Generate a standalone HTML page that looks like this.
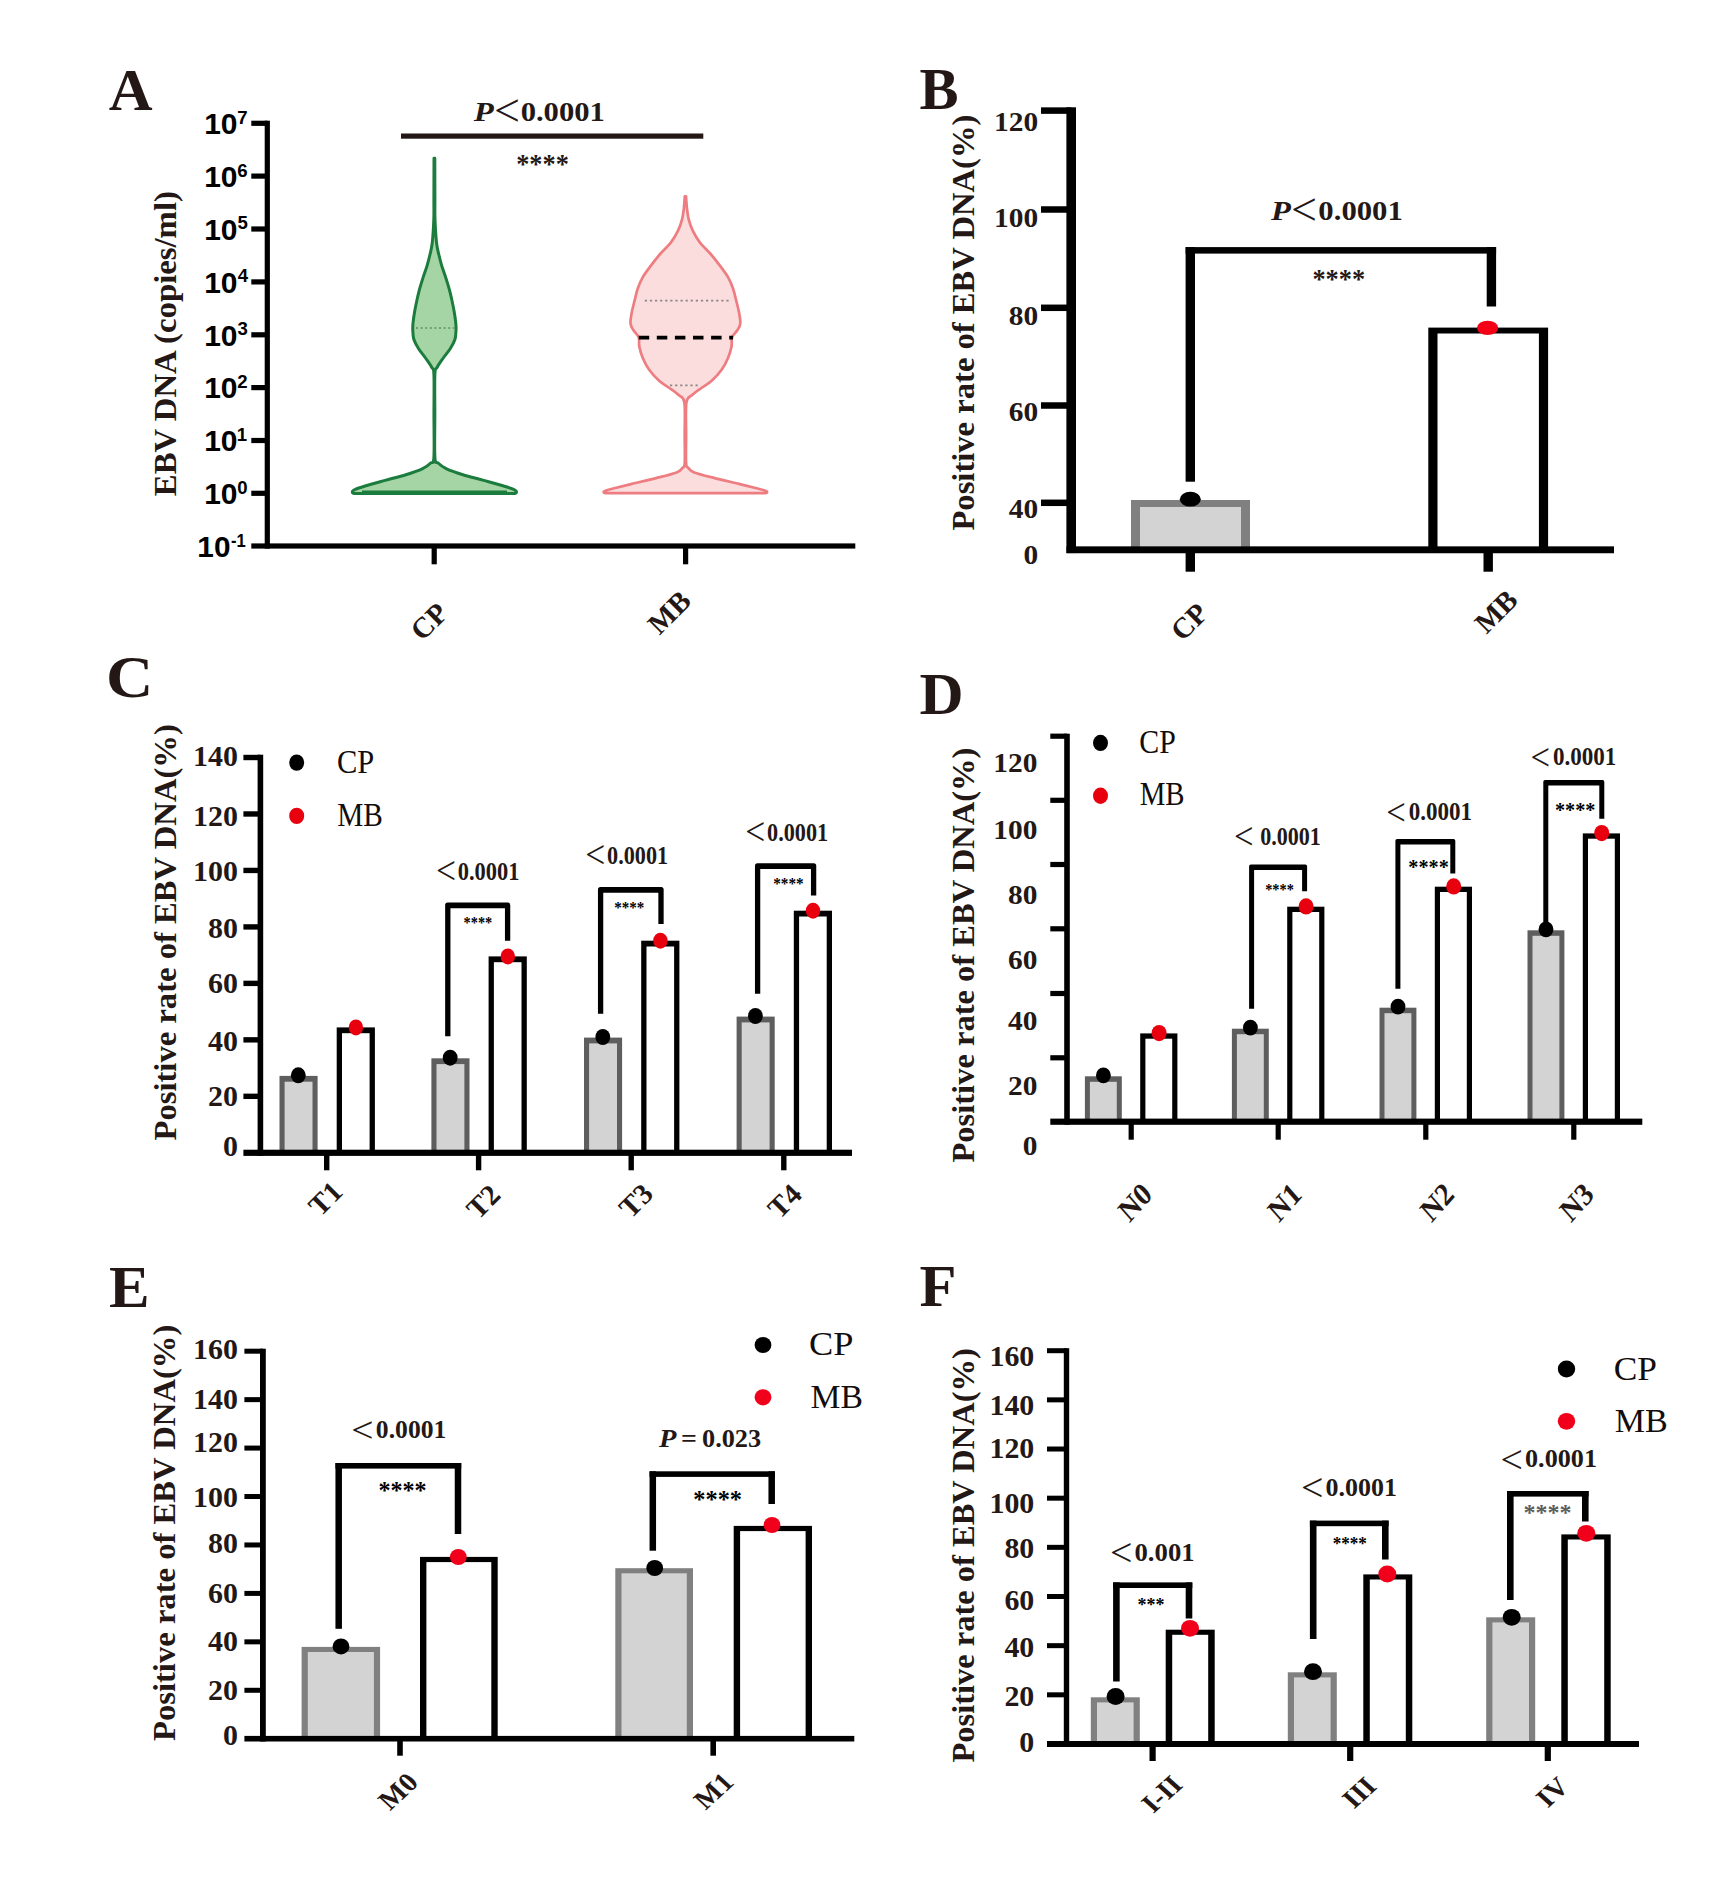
<!DOCTYPE html>
<html lang="en">
<head>
<meta charset="utf-8">
<title>EBV DNA figure</title>
<style>
html,body{margin:0;padding:0;background:#fff;}
svg{display:block;}
text{white-space:pre;}
</style>
</head>
<body>
<svg width="1731" height="1896" viewBox="0 0 1731 1896">
<rect x="0" y="0" width="1731" height="1896" fill="#fff"/>
<text x="108.89" y="110" font-family='"Liberation Serif", serif' font-size="60" font-weight="bold" fill="#231815" textLength="43.84" lengthAdjust="spacingAndGlyphs">A</text>
<path d="M434 158.3 C433.98 165.25 433.93 189.83 433.9 200 C433.87 210.17 434.07 212.23 433.8 219.3 C433.53 226.37 432.92 236.62 432.3 242.4 C431.68 248.18 430.97 250.13 430.1 254 C429.23 257.87 428.25 261.75 427.1 265.6 C425.95 269.45 424.43 273.25 423.2 277.1 C421.97 280.95 420.75 284.85 419.7 288.7 C418.65 292.55 417.75 296.35 416.9 300.2 C416.05 304.05 415.25 307.95 414.6 311.8 C413.95 315.65 413.3 320.22 413 323.3 C412.7 326.38 412.65 327.6 412.8 330.3 C412.95 333 412.93 336.43 413.9 339.5 C414.87 342.57 416.67 345.62 418.6 348.7 C420.53 351.78 423.33 354.92 425.5 358 C427.67 361.08 430.2 364.45 431.6 367.2 C433 369.95 433.51 366.53 433.9 374.5 C434.29 382.47 433.95 401.2 433.95 415 C433.95 428.8 434.44 449.3 433.9 457.3 C433.36 465.3 432.65 461.07 430.7 463 C428.75 464.93 426.33 466.95 422.2 468.9 C418.07 470.85 412.08 472.78 405.9 474.7 C399.72 476.62 392.02 478.48 385.1 480.4 C378.18 482.32 369.38 484.72 364.4 486.2 C359.42 487.68 357.2 488.43 355.2 489.3 C353.2 490.17 352.87 491.05 352.4 491.4 Q352 493.5 354.5 493.5 L514.3 493.5 Q516.8 493.5 516.4 491.4 L516.4 491.4 C515.93 491.05 515.6 490.17 513.6 489.3 C511.6 488.43 509.38 487.68 504.4 486.2 C499.42 484.72 490.62 482.32 483.7 480.4 C476.78 478.48 469.08 476.62 462.9 474.7 C456.72 472.78 450.73 470.85 446.6 468.9 C442.47 466.95 440.05 464.93 438.1 463 C436.15 461.07 435.44 465.3 434.9 457.3 C434.36 449.3 434.85 428.8 434.85 415 C434.85 401.2 434.51 382.47 434.9 374.5 C435.29 366.53 435.8 369.95 437.2 367.2 C438.6 364.45 441.13 361.08 443.3 358 C445.47 354.92 448.27 351.78 450.2 348.7 C452.13 345.62 453.93 342.57 454.9 339.5 C455.87 336.43 455.85 333 456 330.3 C456.15 327.6 456.1 326.38 455.8 323.3 C455.5 320.22 454.85 315.65 454.2 311.8 C453.55 307.95 452.75 304.05 451.9 300.2 C451.05 296.35 450.15 292.55 449.1 288.7 C448.05 284.85 446.83 280.95 445.6 277.1 C444.37 273.25 442.85 269.45 441.7 265.6 C440.55 261.75 439.57 257.87 438.7 254 C437.83 250.13 437.12 248.18 436.5 242.4 C435.88 236.62 435.27 226.37 435 219.3 C434.73 212.23 434.93 210.17 434.9 200 C434.87 189.83 434.82 165.25 434.8 158.3 Z" fill="#a6d5a5" stroke="#1b7c3d" stroke-width="3" stroke-linejoin="round"/>
<path d="M684.8 196.3 C684.65 198.22 684.35 203.97 683.9 207.8 C683.45 211.63 683.1 215.45 682.1 219.3 C681.1 223.15 679.75 227.05 677.9 230.9 C676.05 234.75 673.97 238.55 671 242.4 C668.03 246.25 663.45 250.13 660.1 254 C656.75 257.87 653.78 261.75 650.9 265.6 C648.02 269.45 645 273.25 642.8 277.1 C640.6 280.95 639.05 284.85 637.7 288.7 C636.35 292.55 635.67 296.35 634.7 300.2 C633.73 304.05 632.6 307.95 631.9 311.8 C631.2 315.65 630.23 320.22 630.5 323.3 C630.77 326.38 632.13 327.98 633.5 330.3 C634.87 332.62 637.73 334.52 638.7 337.2 C639.67 339.88 638.62 342.93 639.3 346.4 C639.98 349.87 641.18 354.15 642.8 358 C644.42 361.85 646.23 365.65 649 369.5 C651.77 373.35 656 378.02 659.4 381.1 C662.8 384.18 666.2 385.68 669.4 388 C672.6 390.32 676.1 392.58 678.6 395 C681.1 397.42 683.38 395.83 684.4 402.5 C685.42 409.17 684.65 424.9 684.7 435 C684.75 445.1 685.08 457.6 684.7 463.1 C684.32 468.6 683.75 466.45 682.4 468 C681.05 469.55 681 470.72 676.6 472.4 C672.2 474.08 663.48 476.18 656 478.1 C648.52 480.02 638.83 482.17 631.7 483.9 C624.57 485.63 617.35 487.43 613.2 488.5 C609.05 489.57 608.37 489.78 606.8 490.3 C605.23 490.82 604.3 491.38 603.8 491.6 Q603.4 493.2 605.4 493.2 L765.4 493.2 Q767.4 493.2 767 491.6 L767 491.6 C766.5 491.38 765.57 490.82 764 490.3 C762.43 489.78 761.75 489.57 757.6 488.5 C753.45 487.43 746.23 485.63 739.1 483.9 C731.97 482.17 722.28 480.02 714.8 478.1 C707.32 476.18 698.6 474.08 694.2 472.4 C689.8 470.72 689.75 469.55 688.4 468 C687.05 466.45 686.48 468.6 686.1 463.1 C685.72 457.6 686.05 445.1 686.1 435 C686.15 424.9 685.38 409.17 686.4 402.5 C687.42 395.83 689.7 397.42 692.2 395 C694.7 392.58 698.2 390.32 701.4 388 C704.6 385.68 708 384.18 711.4 381.1 C714.8 378.02 719.03 373.35 721.8 369.5 C724.57 365.65 726.38 361.85 728 358 C729.62 354.15 730.82 349.87 731.5 346.4 C732.18 342.93 731.13 339.88 732.1 337.2 C733.07 334.52 735.93 332.62 737.3 330.3 C738.67 327.98 740.03 326.38 740.3 323.3 C740.57 320.22 739.6 315.65 738.9 311.8 C738.2 307.95 737.07 304.05 736.1 300.2 C735.13 296.35 734.45 292.55 733.1 288.7 C731.75 284.85 730.2 280.95 728 277.1 C725.8 273.25 722.78 269.45 719.9 265.6 C717.02 261.75 714.05 257.87 710.7 254 C707.35 250.13 702.77 246.25 699.8 242.4 C696.83 238.55 694.75 234.75 692.9 230.9 C691.05 227.05 689.7 223.15 688.7 219.3 C687.7 215.45 687.35 211.63 686.9 207.8 C686.45 203.97 686.15 198.22 686 196.3 Z" fill="#fbdddd" stroke="#ee7d82" stroke-width="2.7" stroke-linejoin="round"/>
<line x1="416" y1="327.9" x2="454" y2="327.9" stroke="#5c8f66" stroke-width="1.5" stroke-dasharray="2 2.6"/>
<line x1="362" y1="491.6" x2="507" y2="491.6" stroke="#1b7c3d" stroke-width="2.4"/>
<line x1="644.8" y1="300.6" x2="729.4" y2="300.6" stroke="#8c8686" stroke-width="1.9" stroke-dasharray="2.2 2.9"/>
<line x1="670" y1="385.4" x2="700" y2="385.4" stroke="#8c8686" stroke-width="1.9" stroke-dasharray="2.2 2.9"/>
<line x1="638.7" y1="337.6" x2="733" y2="337.6" stroke="#000" stroke-width="3.8" stroke-dasharray="10.5 7.6"/>
<rect x="264.7" y="120.7" width="5.2" height="427.9" fill="#000"/>
<rect x="251.3" y="120.7" width="16" height="5.2" fill="#000"/>
<rect x="251.3" y="173.5" width="16" height="5.2" fill="#000"/>
<rect x="251.3" y="226.4" width="16" height="5.2" fill="#000"/>
<rect x="251.3" y="279.3" width="16" height="5.2" fill="#000"/>
<rect x="251.3" y="332.2" width="16" height="5.2" fill="#000"/>
<rect x="251.3" y="385" width="16" height="5.2" fill="#000"/>
<rect x="251.3" y="437.9" width="16" height="5.2" fill="#000"/>
<rect x="251.3" y="490.7" width="16" height="5.2" fill="#000"/>
<rect x="251.3" y="543.4" width="604" height="5.2" fill="#000"/>
<rect x="431.6" y="546" width="5.2" height="18.3" fill="#000"/>
<rect x="683" y="546" width="5.2" height="18.3" fill="#000"/>
<text><tspan x="204.13" y="134.1" font-family='"Liberation Sans", sans-serif' font-size="30" font-weight="bold" fill="#000" textLength="33.34" lengthAdjust="spacingAndGlyphs">10</tspan><tspan x="237.21" y="123.7" font-family='"Liberation Sans", sans-serif' font-size="18.6" font-weight="bold" fill="#000" textLength="10.34" lengthAdjust="spacingAndGlyphs">7</tspan></text>
<text><tspan x="204.13" y="186.9" font-family='"Liberation Sans", sans-serif' font-size="30" font-weight="bold" fill="#000" textLength="33.34" lengthAdjust="spacingAndGlyphs">10</tspan><tspan x="237.3" y="176.5" font-family='"Liberation Sans", sans-serif' font-size="18.6" font-weight="bold" fill="#000" textLength="10.34" lengthAdjust="spacingAndGlyphs">6</tspan></text>
<text><tspan x="204.13" y="239.8" font-family='"Liberation Sans", sans-serif' font-size="30" font-weight="bold" fill="#000" textLength="33.34" lengthAdjust="spacingAndGlyphs">10</tspan><tspan x="237.4" y="229.4" font-family='"Liberation Sans", sans-serif' font-size="18.6" font-weight="bold" fill="#000" textLength="10.34" lengthAdjust="spacingAndGlyphs">5</tspan></text>
<text><tspan x="204.13" y="292.7" font-family='"Liberation Sans", sans-serif' font-size="30" font-weight="bold" fill="#000" textLength="33.34" lengthAdjust="spacingAndGlyphs">10</tspan><tspan x="237.72" y="282.3" font-family='"Liberation Sans", sans-serif' font-size="18.6" font-weight="bold" fill="#000" textLength="10.34" lengthAdjust="spacingAndGlyphs">4</tspan></text>
<text><tspan x="204.13" y="345.6" font-family='"Liberation Sans", sans-serif' font-size="30" font-weight="bold" fill="#000" textLength="33.34" lengthAdjust="spacingAndGlyphs">10</tspan><tspan x="237.58" y="335.2" font-family='"Liberation Sans", sans-serif' font-size="18.6" font-weight="bold" fill="#000" textLength="10.34" lengthAdjust="spacingAndGlyphs">3</tspan></text>
<text><tspan x="204.13" y="398.4" font-family='"Liberation Sans", sans-serif' font-size="30" font-weight="bold" fill="#000" textLength="33.34" lengthAdjust="spacingAndGlyphs">10</tspan><tspan x="237.35" y="388" font-family='"Liberation Sans", sans-serif' font-size="18.6" font-weight="bold" fill="#000" textLength="10.34" lengthAdjust="spacingAndGlyphs">2</tspan></text>
<text><tspan x="204.13" y="451.3" font-family='"Liberation Sans", sans-serif' font-size="30" font-weight="bold" fill="#000" textLength="33.34" lengthAdjust="spacingAndGlyphs">10</tspan><tspan x="236.84" y="440.9" font-family='"Liberation Sans", sans-serif' font-size="18.6" font-weight="bold" fill="#000" textLength="10.34" lengthAdjust="spacingAndGlyphs">1</tspan></text>
<text><tspan x="204.13" y="504.1" font-family='"Liberation Sans", sans-serif' font-size="30" font-weight="bold" fill="#000" textLength="33.34" lengthAdjust="spacingAndGlyphs">10</tspan><tspan x="237.26" y="493.7" font-family='"Liberation Sans", sans-serif' font-size="18.6" font-weight="bold" fill="#000" textLength="10.34" lengthAdjust="spacingAndGlyphs">0</tspan></text>
<text><tspan x="197.34" y="557.2" font-family='"Liberation Sans", sans-serif' font-size="30" font-weight="bold" fill="#000" textLength="33.12" lengthAdjust="spacingAndGlyphs">10</tspan><tspan x="230.94" y="546.8" font-family='"Liberation Sans", sans-serif' font-size="18.6" font-weight="bold" fill="#000" textLength="14.75" lengthAdjust="spacingAndGlyphs">-1</tspan></text>
<text transform="translate(176.4 495.6) rotate(-90)" x="-0.57" y="0" font-family='"Liberation Serif", serif' font-size="30.5" font-weight="bold" fill="#231815" textLength="305.07" lengthAdjust="spacingAndGlyphs">EBV DNA (copies/ml)</text>
<rect x="401" y="133.5" width="302.3" height="5.2" fill="#231815"/>
<text><tspan x="473.8" y="120.8" font-family='"Liberation Serif", serif' font-size="28" font-weight="bold" fill="#231815" textLength="19.98" lengthAdjust="spacingAndGlyphs" font-style="italic">P</tspan><tspan x="493.9" y="125.54" font-family='"Liberation Serif", serif' font-size="46.02" font-weight="normal" fill="#231815" textLength="25.96" lengthAdjust="spacingAndGlyphs">&lt;</tspan><tspan x="520.65" y="120.8" font-family='"Liberation Serif", serif' font-size="27.5" font-weight="bold" fill="#231815" textLength="84.26" lengthAdjust="spacingAndGlyphs">0.0001</tspan></text>
<text x="516.18" y="172.8" font-family='"Liberation Serif", serif' font-size="26.37" font-weight="bold" fill="#231815" textLength="52.74" lengthAdjust="spacingAndGlyphs">****</text>
<text x="449.7" y="614.6" font-family='"Liberation Serif", serif' font-size="29" font-weight="bold" fill="#231815" text-anchor="end" transform="rotate(-45 449.7 614.6)">CP</text>
<text x="692.6" y="602.6" font-family='"Liberation Serif", serif' font-size="29" font-weight="bold" fill="#231815" text-anchor="end" transform="rotate(-45 692.6 602.6)">MB</text>
<text x="919.47" y="109.3" font-family='"Liberation Serif", serif' font-size="60" font-weight="bold" fill="#231815" textLength="39.11" lengthAdjust="spacingAndGlyphs">B</text>
<rect x="1131" y="500" width="119" height="49.8" fill="#808080"/>
<rect x="1140" y="507" width="101" height="42.8" fill="#d3d3d3"/>
<rect x="1428.3" y="327.6" width="119.8" height="222.2" fill="#000"/>
<rect x="1437.5" y="333.5" width="101.4" height="216.3" fill="#fff"/>
<rect x="1185.6" y="247.1" width="9.4" height="234.6" fill="#000"/>
<rect x="1486.7" y="247.1" width="9.4" height="59.4" fill="#000"/>
<rect x="1185.6" y="247.1" width="310.5" height="6.5" fill="#000"/>
<ellipse cx="1190.3" cy="499.2" rx="10.5" ry="7.4" fill="#000"/>
<ellipse cx="1487.6" cy="327.9" rx="10.6" ry="7.2" fill="#f50014"/>
<rect x="1066.4" y="107.3" width="9.6" height="445.75" fill="#000"/>
<rect x="1041" y="107.35" width="30.2" height="6.5" fill="#000"/>
<rect x="1041" y="206.25" width="30.2" height="6.5" fill="#000"/>
<rect x="1041" y="304.55" width="30.2" height="6.5" fill="#000"/>
<rect x="1041" y="402.25" width="30.2" height="6.5" fill="#000"/>
<rect x="1041" y="499.55" width="30.2" height="6.5" fill="#000"/>
<rect x="1066.5" y="546.35" width="547.5" height="6.9" fill="#000"/>
<rect x="1185.6" y="549.8" width="9.4" height="21.9" fill="#000"/>
<rect x="1483.5" y="549.8" width="9.4" height="21.9" fill="#000"/>
<text x="994" y="131" font-family='"Liberation Serif", serif' font-size="28" font-weight="bold" fill="#231815" textLength="44.1" lengthAdjust="spacingAndGlyphs">120</text>
<text x="994" y="227.2" font-family='"Liberation Serif", serif' font-size="28" font-weight="bold" fill="#231815" textLength="44.1" lengthAdjust="spacingAndGlyphs">100</text>
<text x="1008.7" y="324.8" font-family='"Liberation Serif", serif' font-size="28" font-weight="bold" fill="#231815" textLength="29.4" lengthAdjust="spacingAndGlyphs">80</text>
<text x="1008.7" y="420.8" font-family='"Liberation Serif", serif' font-size="28" font-weight="bold" fill="#231815" textLength="29.4" lengthAdjust="spacingAndGlyphs">60</text>
<text x="1008.7" y="518" font-family='"Liberation Serif", serif' font-size="28" font-weight="bold" fill="#231815" textLength="29.4" lengthAdjust="spacingAndGlyphs">40</text>
<text x="1023.4" y="564.4" font-family='"Liberation Serif", serif' font-size="28" font-weight="bold" fill="#231815" textLength="14.7" lengthAdjust="spacingAndGlyphs">0</text>
<text transform="translate(973.7 530) rotate(-90)" x="-0.57" y="0" font-family='"Liberation Serif", serif' font-size="30.5" font-weight="bold" fill="#231815" textLength="415.94" lengthAdjust="spacingAndGlyphs">Positive rate of EBV DNA(%)</text>
<text><tspan x="1270.9" y="220" font-family='"Liberation Serif", serif' font-size="28" font-weight="bold" fill="#231815" textLength="19.88" lengthAdjust="spacingAndGlyphs" font-style="italic">P</tspan><tspan x="1291.1" y="224.74" font-family='"Liberation Serif", serif' font-size="46.02" font-weight="normal" fill="#231815" textLength="25.96" lengthAdjust="spacingAndGlyphs">&lt;</tspan><tspan x="1318.35" y="220" font-family='"Liberation Serif", serif' font-size="27.5" font-weight="bold" fill="#231815" textLength="84.46" lengthAdjust="spacingAndGlyphs">0.0001</tspan></text>
<text x="1312.38" y="288.3" font-family='"Liberation Serif", serif' font-size="26.37" font-weight="bold" fill="#231815" textLength="52.74" lengthAdjust="spacingAndGlyphs">****</text>
<text transform="translate(1209.8 615) scale(1 1) rotate(-45)" x="0" y="0" font-family='"Liberation Serif", serif' font-size="29" font-weight="bold" fill="#231815" text-anchor="end">CP</text>
<text transform="translate(1519.5 601.7) scale(1 1) rotate(-45)" x="0" y="0" font-family='"Liberation Serif", serif' font-size="29" font-weight="bold" fill="#231815" text-anchor="end">MB</text>
<text x="106.02" y="696.6" font-family='"Liberation Serif", serif' font-size="60" font-weight="bold" fill="#231815" textLength="47.34" lengthAdjust="spacingAndGlyphs">C</text>
<rect x="279.5" y="1075.9" width="38.1" height="76.9" fill="#5e5e5e"/>
<rect x="284.6" y="1081.7" width="27.9" height="71.1" fill="#d3d3d3"/>
<rect x="336.7" y="1027.4" width="38.2" height="125.4" fill="#000"/>
<rect x="342" y="1033.2" width="27.6" height="119.6" fill="#fff"/>
<rect x="431.4" y="1058.3" width="38.1" height="94.5" fill="#5e5e5e"/>
<rect x="436.5" y="1064.1" width="27.9" height="88.7" fill="#d3d3d3"/>
<rect x="488.6" y="956.4" width="38.2" height="196.4" fill="#000"/>
<rect x="493.9" y="962.2" width="27.6" height="190.6" fill="#fff"/>
<rect x="584" y="1037.6" width="38.1" height="115.2" fill="#5e5e5e"/>
<rect x="589.1" y="1043.4" width="27.9" height="109.4" fill="#d3d3d3"/>
<rect x="641.2" y="940.7" width="38.2" height="212.1" fill="#000"/>
<rect x="646.5" y="946.5" width="27.6" height="206.3" fill="#fff"/>
<rect x="736.6" y="1016.6" width="38.1" height="136.2" fill="#5e5e5e"/>
<rect x="741.7" y="1022.4" width="27.9" height="130.4" fill="#d3d3d3"/>
<rect x="793.8" y="910.7" width="38.2" height="242.1" fill="#000"/>
<rect x="799.1" y="916.5" width="27.6" height="236.3" fill="#fff"/>
<path d="M445.15 1036.3 L445.15 904.9 Q445.15 902.4 447.65 902.4 L507.75 902.4 Q510.25 902.4 510.25 904.9 L510.25 940.8 L504.95 940.8 L504.95 908.2 L450.45 908.2 L450.45 1036.3 Z" fill="#000"/>
<path d="M597.95 1013.7 L597.95 889.5 Q597.95 887 600.45 887 L661.15 887 Q663.65 887 663.65 889.5 L663.65 924 L658.35 924 L658.35 892.8 L603.25 892.8 L603.25 1013.7 Z" fill="#000"/>
<path d="M754.95 993.7 L754.95 865.7 Q754.95 863.2 757.45 863.2 L813.75 863.2 Q816.25 863.2 816.25 865.7 L816.25 895.6 L810.95 895.6 L810.95 869 L760.25 869 L760.25 993.7 Z" fill="#000"/>
<ellipse cx="298.3" cy="1075.3" rx="7.4" ry="8" fill="#000"/>
<ellipse cx="355.9" cy="1027.4" rx="7.2" ry="8" fill="#e8000f"/>
<ellipse cx="450.2" cy="1057.7" rx="7.4" ry="8" fill="#000"/>
<ellipse cx="507.8" cy="956.4" rx="7.2" ry="8" fill="#e8000f"/>
<ellipse cx="602.8" cy="1037" rx="7.4" ry="8" fill="#000"/>
<ellipse cx="660.4" cy="940.7" rx="7.2" ry="8" fill="#e8000f"/>
<ellipse cx="755.4" cy="1016" rx="7.4" ry="8" fill="#000"/>
<ellipse cx="813" cy="910.7" rx="7.2" ry="8" fill="#e8000f"/>
<rect x="257.6" y="754.7" width="5.6" height="401.1" fill="#000"/>
<rect x="243.4" y="754.8" width="17" height="5.4" fill="#000"/>
<rect x="243.4" y="811.27" width="17" height="5.4" fill="#000"/>
<rect x="243.4" y="867.74" width="17" height="5.4" fill="#000"/>
<rect x="243.4" y="924.21" width="17" height="5.4" fill="#000"/>
<rect x="243.4" y="980.68" width="17" height="5.4" fill="#000"/>
<rect x="243.4" y="1037.15" width="17" height="5.4" fill="#000"/>
<rect x="243.4" y="1093.62" width="17" height="5.4" fill="#000"/>
<rect x="243.4" y="1149.7" width="608.6" height="6.2" fill="#000"/>
<rect x="324" y="1152.8" width="5.4" height="17.5" fill="#000"/>
<rect x="475.9" y="1152.8" width="5.4" height="17.5" fill="#000"/>
<rect x="628.5" y="1152.8" width="5.4" height="17.5" fill="#000"/>
<rect x="781.1" y="1152.8" width="5.4" height="17.5" fill="#000"/>
<text x="193.03" y="766.4" font-family='"Liberation Serif", serif' font-size="28.5" font-weight="bold" fill="#231815" textLength="44.89" lengthAdjust="spacingAndGlyphs">140</text>
<text x="193.03" y="825.77" font-family='"Liberation Serif", serif' font-size="28.5" font-weight="bold" fill="#231815" textLength="44.89" lengthAdjust="spacingAndGlyphs">120</text>
<text x="193.03" y="880.94" font-family='"Liberation Serif", serif' font-size="28.5" font-weight="bold" fill="#231815" textLength="44.89" lengthAdjust="spacingAndGlyphs">100</text>
<text x="208" y="937.61" font-family='"Liberation Serif", serif' font-size="28.5" font-weight="bold" fill="#231815" textLength="29.93" lengthAdjust="spacingAndGlyphs">80</text>
<text x="208" y="992.98" font-family='"Liberation Serif", serif' font-size="28.5" font-weight="bold" fill="#231815" textLength="29.93" lengthAdjust="spacingAndGlyphs">60</text>
<text x="208" y="1051.25" font-family='"Liberation Serif", serif' font-size="28.5" font-weight="bold" fill="#231815" textLength="29.93" lengthAdjust="spacingAndGlyphs">40</text>
<text x="208" y="1105.92" font-family='"Liberation Serif", serif' font-size="28.5" font-weight="bold" fill="#231815" textLength="29.93" lengthAdjust="spacingAndGlyphs">20</text>
<text x="222.96" y="1155.5" font-family='"Liberation Serif", serif' font-size="28.5" font-weight="bold" fill="#231815" textLength="14.96" lengthAdjust="spacingAndGlyphs">0</text>
<text transform="translate(175.8 1140) rotate(-90)" x="-0.57" y="0" font-family='"Liberation Serif", serif' font-size="30.5" font-weight="bold" fill="#231815" textLength="416.44" lengthAdjust="spacingAndGlyphs">Positive rate of EBV DNA(%)</text>
<ellipse cx="296.7" cy="762.6" rx="7.5" ry="8.2" fill="#000"/>
<ellipse cx="296.7" cy="815.9" rx="7.5" ry="8.2" fill="#e8000f"/>
<text x="336.98" y="772.9" font-family='"Liberation Serif", serif' font-size="34.5" font-weight="normal" fill="#120d0b" textLength="37.26" lengthAdjust="spacingAndGlyphs">CP</text>
<text x="337.32" y="826.4" font-family='"Liberation Serif", serif' font-size="34.5" font-weight="normal" fill="#120d0b" textLength="45.61" lengthAdjust="spacingAndGlyphs">MB</text>
<text><tspan x="435.93" y="884.25" font-family='"Liberation Serif", serif' font-size="39.74" font-weight="normal" fill="#231815" textLength="20.01" lengthAdjust="spacingAndGlyphs">&lt;</tspan><tspan x="457.76" y="879.8" font-family='"Liberation Serif", serif' font-size="26" font-weight="bold" fill="#231815" textLength="61.62" lengthAdjust="spacingAndGlyphs">0.0001</tspan></text>
<text><tspan x="585.23" y="868.25" font-family='"Liberation Serif", serif' font-size="39.74" font-weight="normal" fill="#231815" textLength="20.01" lengthAdjust="spacingAndGlyphs">&lt;</tspan><tspan x="607.07" y="863.8" font-family='"Liberation Serif", serif' font-size="26" font-weight="bold" fill="#231815" textLength="61.1" lengthAdjust="spacingAndGlyphs">0.0001</tspan></text>
<text><tspan x="745.23" y="845.45" font-family='"Liberation Serif", serif' font-size="39.74" font-weight="normal" fill="#231815" textLength="20.01" lengthAdjust="spacingAndGlyphs">&lt;</tspan><tspan x="767.07" y="841" font-family='"Liberation Serif", serif' font-size="26" font-weight="bold" fill="#231815" textLength="61.1" lengthAdjust="spacingAndGlyphs">0.0001</tspan></text>
<text x="463.59" y="927.82" font-family='"Liberation Serif", serif' font-size="17" font-weight="bold" fill="#000" textLength="28.62" lengthAdjust="spacingAndGlyphs">****</text>
<text x="614.16" y="913.42" font-family='"Liberation Serif", serif' font-size="17" font-weight="bold" fill="#000" textLength="30.08" lengthAdjust="spacingAndGlyphs">****</text>
<text x="773.15" y="889.02" font-family='"Liberation Serif", serif' font-size="17" font-weight="bold" fill="#000" textLength="30.5" lengthAdjust="spacingAndGlyphs">****</text>
<text transform="translate(344.2 1193.5) scale(1 1) rotate(-45)" x="0" y="0" font-family='"Liberation Serif", serif' font-size="29" font-weight="bold" fill="#231815" text-anchor="end">T1</text>
<text transform="translate(502.1 1196.5) scale(1 1) rotate(-45)" x="0" y="0" font-family='"Liberation Serif", serif' font-size="29" font-weight="bold" fill="#231815" text-anchor="end">T2</text>
<text transform="translate(654.7 1195.5) scale(1 1) rotate(-45)" x="0" y="0" font-family='"Liberation Serif", serif' font-size="29" font-weight="bold" fill="#231815" text-anchor="end">T3</text>
<text transform="translate(803.5 1196) scale(1 1) rotate(-45)" x="0" y="0" font-family='"Liberation Serif", serif' font-size="29" font-weight="bold" fill="#231815" text-anchor="end">T4</text>
<text x="919.43" y="713.5" font-family='"Liberation Serif", serif' font-size="60" font-weight="bold" fill="#231815" textLength="44.1" lengthAdjust="spacingAndGlyphs">D</text>
<rect x="1084.9" y="1076.3" width="36.9" height="45.4" fill="#5e5e5e"/>
<rect x="1089.9" y="1081.8" width="26.9" height="39.9" fill="#d3d3d3"/>
<rect x="1140.2" y="1033.4" width="37.2" height="88.3" fill="#000"/>
<rect x="1145.4" y="1038.7" width="26.8" height="83" fill="#fff"/>
<rect x="1231.9" y="1028.7" width="36.9" height="93" fill="#5e5e5e"/>
<rect x="1236.9" y="1034.2" width="26.9" height="87.5" fill="#d3d3d3"/>
<rect x="1287.2" y="906.7" width="37.2" height="215" fill="#000"/>
<rect x="1292.4" y="912" width="26.8" height="209.7" fill="#fff"/>
<rect x="1379.5" y="1007.7" width="36.9" height="114" fill="#5e5e5e"/>
<rect x="1384.5" y="1013.2" width="26.9" height="108.5" fill="#d3d3d3"/>
<rect x="1434.8" y="886.7" width="37.2" height="235" fill="#000"/>
<rect x="1440" y="892" width="26.8" height="229.7" fill="#fff"/>
<rect x="1527.5" y="930.3" width="36.9" height="191.4" fill="#5e5e5e"/>
<rect x="1532.5" y="935.8" width="26.9" height="185.9" fill="#d3d3d3"/>
<rect x="1582.8" y="833.4" width="37.2" height="288.3" fill="#000"/>
<rect x="1588" y="838.7" width="26.8" height="283" fill="#fff"/>
<path d="M1249.1 1008.7 L1249.1 866.2 Q1249.1 864.4 1250.9 864.4 L1305.3 864.4 Q1307.1 864.4 1307.1 866.2 L1307.1 891.3 L1302.1 891.3 L1302.1 869.9 L1254.1 869.9 L1254.1 1008.7 Z" fill="#000"/>
<path d="M1395.4 988.7 L1395.4 840.8 Q1395.4 839 1397.2 839 L1453.5 839 Q1455.3 839 1455.3 840.8 L1455.3 873.5 L1450.3 873.5 L1450.3 844.5 L1400.4 844.5 L1400.4 988.7 Z" fill="#000"/>
<path d="M1543.3 922 L1543.3 781.8 Q1543.3 780 1545.1 780 L1602.5 780 Q1604.3 780 1604.3 781.8 L1604.3 818.7 L1599.3 818.7 L1599.3 785.5 L1548.3 785.5 L1548.3 922 Z" fill="#000"/>
<ellipse cx="1103.4" cy="1075.3" rx="7.4" ry="7.9" fill="#000"/>
<ellipse cx="1159.1" cy="1033.1" rx="7.5" ry="8.1" fill="#e8000f"/>
<ellipse cx="1250.4" cy="1027.7" rx="7.4" ry="7.9" fill="#000"/>
<ellipse cx="1306.1" cy="906.4" rx="7.5" ry="8.1" fill="#e8000f"/>
<ellipse cx="1398" cy="1006.7" rx="7.4" ry="7.9" fill="#000"/>
<ellipse cx="1453.7" cy="886.4" rx="7.5" ry="8.1" fill="#e8000f"/>
<ellipse cx="1546" cy="929.3" rx="7.4" ry="7.9" fill="#000"/>
<ellipse cx="1601.7" cy="833.1" rx="7.5" ry="8.1" fill="#e8000f"/>
<rect x="1064.2" y="733.7" width="5.6" height="391" fill="#000"/>
<rect x="1050.3" y="733.6" width="16.7" height="5.2" fill="#000"/>
<rect x="1050.3" y="797.7" width="16.7" height="5.2" fill="#000"/>
<rect x="1050.3" y="861.9" width="16.7" height="5.2" fill="#000"/>
<rect x="1050.3" y="926.2" width="16.7" height="5.2" fill="#000"/>
<rect x="1050.3" y="990.9" width="16.7" height="5.2" fill="#000"/>
<rect x="1050.3" y="1055.2" width="16.7" height="5.2" fill="#000"/>
<rect x="1050.3" y="1118.6" width="592" height="6.2" fill="#000"/>
<rect x="1128.6" y="1121.7" width="5.2" height="18" fill="#000"/>
<rect x="1275.6" y="1121.7" width="5.2" height="18" fill="#000"/>
<rect x="1423.2" y="1121.7" width="5.2" height="18" fill="#000"/>
<rect x="1571.2" y="1121.7" width="5.2" height="18" fill="#000"/>
<text x="993.3" y="772" font-family='"Liberation Serif", serif' font-size="28" font-weight="bold" fill="#231815" textLength="44.1" lengthAdjust="spacingAndGlyphs">120</text>
<text x="993.3" y="839.3" font-family='"Liberation Serif", serif' font-size="28" font-weight="bold" fill="#231815" textLength="44.1" lengthAdjust="spacingAndGlyphs">100</text>
<text x="1008" y="903.7" font-family='"Liberation Serif", serif' font-size="28" font-weight="bold" fill="#231815" textLength="29.4" lengthAdjust="spacingAndGlyphs">80</text>
<text x="1008" y="968.7" font-family='"Liberation Serif", serif' font-size="28" font-weight="bold" fill="#231815" textLength="29.4" lengthAdjust="spacingAndGlyphs">60</text>
<text x="1008" y="1030.3" font-family='"Liberation Serif", serif' font-size="28" font-weight="bold" fill="#231815" textLength="29.4" lengthAdjust="spacingAndGlyphs">40</text>
<text x="1008" y="1095.3" font-family='"Liberation Serif", serif' font-size="28" font-weight="bold" fill="#231815" textLength="29.4" lengthAdjust="spacingAndGlyphs">20</text>
<text x="1022.7" y="1155.3" font-family='"Liberation Serif", serif' font-size="28" font-weight="bold" fill="#231815" textLength="14.7" lengthAdjust="spacingAndGlyphs">0</text>
<text transform="translate(973.7 1162) rotate(-90)" x="-0.57" y="0" font-family='"Liberation Serif", serif' font-size="30.5" font-weight="bold" fill="#231815" textLength="414.94" lengthAdjust="spacingAndGlyphs">Positive rate of EBV DNA(%)</text>
<ellipse cx="1100.5" cy="742.9" rx="7.5" ry="8.1" fill="#000"/>
<ellipse cx="1100.5" cy="795.8" rx="7.5" ry="8.2" fill="#e8000f"/>
<text x="1139.31" y="752.6" font-family='"Liberation Serif", serif' font-size="34" font-weight="normal" fill="#120d0b" textLength="36.51" lengthAdjust="spacingAndGlyphs">CP</text>
<text x="1139.63" y="804.6" font-family='"Liberation Serif", serif' font-size="34" font-weight="normal" fill="#120d0b" textLength="44.97" lengthAdjust="spacingAndGlyphs">MB</text>
<text><tspan x="1233.97" y="849.07" font-family='"Liberation Serif", serif' font-size="38.78" font-weight="normal" fill="#231815" textLength="19.53" lengthAdjust="spacingAndGlyphs">&lt;</tspan><tspan x="1260.17" y="844.6" font-family='"Liberation Serif", serif' font-size="25" font-weight="bold" fill="#231815" textLength="60.69" lengthAdjust="spacingAndGlyphs">0.0001</tspan></text>
<text><tspan x="1386.37" y="824.87" font-family='"Liberation Serif", serif' font-size="38.78" font-weight="normal" fill="#231815" textLength="19.53" lengthAdjust="spacingAndGlyphs">&lt;</tspan><tspan x="1408.74" y="820.4" font-family='"Liberation Serif", serif' font-size="25" font-weight="bold" fill="#231815" textLength="63.37" lengthAdjust="spacingAndGlyphs">0.0001</tspan></text>
<text><tspan x="1530.57" y="769.87" font-family='"Liberation Serif", serif' font-size="38.78" font-weight="normal" fill="#231815" textLength="19.53" lengthAdjust="spacingAndGlyphs">&lt;</tspan><tspan x="1552.93" y="765.4" font-family='"Liberation Serif", serif' font-size="25" font-weight="bold" fill="#231815" textLength="63.48" lengthAdjust="spacingAndGlyphs">0.0001</tspan></text>
<text x="1265.19" y="894.62" font-family='"Liberation Serif", serif' font-size="17" font-weight="bold" fill="#000" textLength="28.62" lengthAdjust="spacingAndGlyphs">****</text>
<text x="1408.34" y="874.02" font-family='"Liberation Serif", serif' font-size="22" font-weight="bold" fill="#000" textLength="40.52" lengthAdjust="spacingAndGlyphs">****</text>
<text x="1554.94" y="817.32" font-family='"Liberation Serif", serif' font-size="22" font-weight="bold" fill="#000" textLength="40.52" lengthAdjust="spacingAndGlyphs">****</text>
<text transform="translate(1153.7 1196) scale(1 1.14) rotate(-45)" x="0" y="0" font-family='"Liberation Serif", serif' font-size="28" font-weight="bold" fill="#231815" text-anchor="end">N0</text>
<text transform="translate(1303.1 1196) scale(1 1.14) rotate(-45)" x="0" y="0" font-family='"Liberation Serif", serif' font-size="28" font-weight="bold" fill="#231815" text-anchor="end">N1</text>
<text transform="translate(1455.7 1196) scale(1 1.14) rotate(-45)" x="0" y="0" font-family='"Liberation Serif", serif' font-size="28" font-weight="bold" fill="#231815" text-anchor="end">N2</text>
<text transform="translate(1595.3 1196) scale(1 1.14) rotate(-45)" x="0" y="0" font-family='"Liberation Serif", serif' font-size="28" font-weight="bold" fill="#231815" text-anchor="end">N3</text>
<text x="109.13" y="1306.5" font-family='"Liberation Serif", serif' font-size="60" font-weight="bold" fill="#231815" textLength="40.63" lengthAdjust="spacingAndGlyphs">E</text>
<rect x="301.6" y="1646.9" width="78.5" height="91.8" fill="#808080"/>
<rect x="307.8" y="1652" width="66.1" height="86.7" fill="#d3d3d3"/>
<rect x="420" y="1556.9" width="77.7" height="181.8" fill="#000"/>
<rect x="426.4" y="1562.1" width="64.9" height="176.6" fill="#fff"/>
<rect x="615.3" y="1568.2" width="77.7" height="170.5" fill="#808080"/>
<rect x="621.5" y="1573.3" width="65.3" height="165.4" fill="#d3d3d3"/>
<rect x="733.7" y="1525.9" width="78.3" height="212.8" fill="#000"/>
<rect x="740.1" y="1531.1" width="65.5" height="207.6" fill="#fff"/>
<rect x="335.45" y="1463" width="6.5" height="165.8" fill="#000"/>
<rect x="454.75" y="1463" width="6.5" height="71" fill="#000"/>
<rect x="335.45" y="1463" width="125.8" height="5.6" fill="#000"/>
<rect x="649.55" y="1471.3" width="6.5" height="79.4" fill="#000"/>
<rect x="768.45" y="1471.3" width="6.5" height="32.7" fill="#000"/>
<rect x="649.55" y="1471.3" width="125.4" height="5.6" fill="#000"/>
<ellipse cx="341" cy="1646.4" rx="8.4" ry="8" fill="#000"/>
<ellipse cx="458.3" cy="1557" rx="8.4" ry="8" fill="#f0001a"/>
<ellipse cx="654.7" cy="1568" rx="8.4" ry="8" fill="#000"/>
<ellipse cx="772" cy="1525" rx="8.4" ry="8" fill="#f0001a"/>
<rect x="260" y="1348.7" width="5.8" height="392.8" fill="#000"/>
<rect x="244.4" y="1348.7" width="18.5" height="5" fill="#000"/>
<rect x="244.4" y="1397.14" width="18.5" height="5" fill="#000"/>
<rect x="244.4" y="1445.58" width="18.5" height="5" fill="#000"/>
<rect x="244.4" y="1494.02" width="18.5" height="5" fill="#000"/>
<rect x="244.4" y="1542.46" width="18.5" height="5" fill="#000"/>
<rect x="244.4" y="1590.9" width="18.5" height="5" fill="#000"/>
<rect x="244.4" y="1639.34" width="18.5" height="5" fill="#000"/>
<rect x="244.4" y="1687.78" width="18.5" height="5" fill="#000"/>
<rect x="244.4" y="1735.9" width="609.9" height="5.6" fill="#000"/>
<rect x="397.2" y="1738.7" width="5.6" height="17" fill="#000"/>
<rect x="710.4" y="1738.7" width="5.6" height="17" fill="#000"/>
<text x="193.03" y="1358.5" font-family='"Liberation Serif", serif' font-size="28.5" font-weight="bold" fill="#231815" textLength="44.89" lengthAdjust="spacingAndGlyphs">160</text>
<text x="193.03" y="1408.74" font-family='"Liberation Serif", serif' font-size="28.5" font-weight="bold" fill="#231815" textLength="44.89" lengthAdjust="spacingAndGlyphs">140</text>
<text x="193.03" y="1451.58" font-family='"Liberation Serif", serif' font-size="28.5" font-weight="bold" fill="#231815" textLength="44.89" lengthAdjust="spacingAndGlyphs">120</text>
<text x="193.03" y="1506.92" font-family='"Liberation Serif", serif' font-size="28.5" font-weight="bold" fill="#231815" textLength="44.89" lengthAdjust="spacingAndGlyphs">100</text>
<text x="208" y="1552.96" font-family='"Liberation Serif", serif' font-size="28.5" font-weight="bold" fill="#231815" textLength="29.93" lengthAdjust="spacingAndGlyphs">80</text>
<text x="208" y="1602.9" font-family='"Liberation Serif", serif' font-size="28.5" font-weight="bold" fill="#231815" textLength="29.93" lengthAdjust="spacingAndGlyphs">60</text>
<text x="208" y="1650.94" font-family='"Liberation Serif", serif' font-size="28.5" font-weight="bold" fill="#231815" textLength="29.93" lengthAdjust="spacingAndGlyphs">40</text>
<text x="208" y="1700.18" font-family='"Liberation Serif", serif' font-size="28.5" font-weight="bold" fill="#231815" textLength="29.93" lengthAdjust="spacingAndGlyphs">20</text>
<text x="222.96" y="1744.6" font-family='"Liberation Serif", serif' font-size="28.5" font-weight="bold" fill="#231815" textLength="14.96" lengthAdjust="spacingAndGlyphs">0</text>
<text transform="translate(175 1740.5) rotate(-90)" x="-0.57" y="0" font-family='"Liberation Serif", serif' font-size="30.5" font-weight="bold" fill="#231815" textLength="416.44" lengthAdjust="spacingAndGlyphs">Positive rate of EBV DNA(%)</text>
<ellipse cx="763" cy="1345" rx="8.4" ry="8.1" fill="#000"/>
<ellipse cx="763" cy="1397.3" rx="8.4" ry="8.1" fill="#f0001a"/>
<text x="809.05" y="1355.2" font-family='"Liberation Serif", serif' font-size="33" font-weight="normal" fill="#120d0b" textLength="44.43" lengthAdjust="spacingAndGlyphs">CP</text>
<text x="810.49" y="1407.8" font-family='"Liberation Serif", serif' font-size="33" font-weight="normal" fill="#120d0b" textLength="52.35" lengthAdjust="spacingAndGlyphs">MB</text>
<text><tspan x="351.32" y="1441.58" font-family='"Liberation Serif", serif' font-size="36.8" font-weight="normal" fill="#231815" textLength="22.32" lengthAdjust="spacingAndGlyphs">&lt;</tspan><tspan x="375.84" y="1437.6" font-family='"Liberation Serif", serif' font-size="24.5" font-weight="bold" fill="#231815" textLength="70.51" lengthAdjust="spacingAndGlyphs">0.0001</tspan></text>
<text><tspan x="658.9" y="1447.2" font-family='"Liberation Serif", serif' font-size="24.5" font-weight="bold" fill="#231815" textLength="17.41" lengthAdjust="spacingAndGlyphs" font-style="italic">P</tspan><tspan x="674.11" y="1447.2" font-family='"Liberation Serif", serif' font-size="24.5" font-weight="bold" fill="#231815" textLength="29.91" lengthAdjust="spacingAndGlyphs"> = </tspan><tspan x="702.01" y="1447.2" font-family='"Liberation Serif", serif' font-size="24.5" font-weight="bold" fill="#231815" textLength="59.1" lengthAdjust="spacingAndGlyphs">0.023</tspan></text>
<text x="378.48" y="1498.7" font-family='"Liberation Serif", serif' font-size="25" font-weight="bold" fill="#000" textLength="48.15" lengthAdjust="spacingAndGlyphs">****</text>
<text x="693.37" y="1507.7" font-family='"Liberation Serif", serif' font-size="25" font-weight="bold" fill="#000" textLength="48.67" lengthAdjust="spacingAndGlyphs">****</text>
<text transform="translate(419.7 1783.9) scale(1 0.92) rotate(-45)" x="0" y="0" font-family='"Liberation Serif", serif' font-size="29" font-weight="bold" fill="#231815" text-anchor="end">M0</text>
<text transform="translate(735.2 1783.5) scale(1 0.92) rotate(-45)" x="0" y="0" font-family='"Liberation Serif", serif' font-size="29" font-weight="bold" fill="#231815" text-anchor="end">M1</text>
<text x="919.44" y="1305.5" font-family='"Liberation Serif", serif' font-size="60" font-weight="bold" fill="#231815" textLength="36.99" lengthAdjust="spacingAndGlyphs">F</text>
<rect x="1090.8" y="1697.3" width="49" height="46.7" fill="#808080"/>
<rect x="1097" y="1702.4" width="36.6" height="41.6" fill="#d3d3d3"/>
<rect x="1165.7" y="1629.7" width="49" height="114.3" fill="#000"/>
<rect x="1172.2" y="1634.8" width="36" height="109.2" fill="#fff"/>
<rect x="1287.8" y="1672.3" width="49" height="71.7" fill="#808080"/>
<rect x="1294" y="1677.4" width="36.6" height="66.6" fill="#d3d3d3"/>
<rect x="1363.3" y="1574.4" width="49" height="169.6" fill="#000"/>
<rect x="1369.8" y="1579.5" width="36" height="164.5" fill="#fff"/>
<rect x="1486.2" y="1617.3" width="49" height="126.7" fill="#808080"/>
<rect x="1492.4" y="1622.4" width="36.6" height="121.6" fill="#d3d3d3"/>
<rect x="1561.3" y="1534.4" width="49.4" height="209.6" fill="#000"/>
<rect x="1567.8" y="1539.5" width="36.4" height="204.5" fill="#fff"/>
<rect x="1113.1" y="1582.4" width="6.6" height="99.1" fill="#000"/>
<rect x="1185.7" y="1582.4" width="6.6" height="36.1" fill="#000"/>
<rect x="1113.1" y="1582.4" width="79.2" height="5.6" fill="#000"/>
<rect x="1309.9" y="1520.6" width="6.6" height="118.4" fill="#000"/>
<rect x="1382" y="1520.6" width="6.6" height="38.9" fill="#000"/>
<rect x="1309.9" y="1520.6" width="78.7" height="5.6" fill="#000"/>
<rect x="1507" y="1491" width="6.6" height="109" fill="#000"/>
<rect x="1582" y="1491" width="6.6" height="30.5" fill="#000"/>
<rect x="1507" y="1491" width="81.6" height="5.6" fill="#000"/>
<ellipse cx="1115.6" cy="1696.5" rx="9" ry="8.4" fill="#000"/>
<ellipse cx="1190" cy="1628.3" rx="9" ry="8.4" fill="#f0001a"/>
<ellipse cx="1313" cy="1671.7" rx="9" ry="8.4" fill="#000"/>
<ellipse cx="1387.3" cy="1574" rx="9" ry="8.4" fill="#f0001a"/>
<ellipse cx="1511.7" cy="1617.3" rx="9" ry="8.4" fill="#000"/>
<ellipse cx="1586.3" cy="1533.3" rx="9" ry="8.4" fill="#f0001a"/>
<rect x="1063.8" y="1348.2" width="5.4" height="398.8" fill="#000"/>
<rect x="1047" y="1348.2" width="19.7" height="5" fill="#000"/>
<rect x="1047" y="1397.36" width="19.7" height="5" fill="#000"/>
<rect x="1047" y="1446.52" width="19.7" height="5" fill="#000"/>
<rect x="1047" y="1495.68" width="19.7" height="5" fill="#000"/>
<rect x="1047" y="1544.84" width="19.7" height="5" fill="#000"/>
<rect x="1047" y="1594" width="19.7" height="5" fill="#000"/>
<rect x="1047" y="1643.16" width="19.7" height="5" fill="#000"/>
<rect x="1047" y="1692.32" width="19.7" height="5" fill="#000"/>
<rect x="1047" y="1741" width="592" height="6" fill="#000"/>
<rect x="1149.5" y="1744" width="6.2" height="17" fill="#000"/>
<rect x="1347.1" y="1744" width="6.2" height="17" fill="#000"/>
<rect x="1544.7" y="1744" width="6.2" height="17" fill="#000"/>
<text x="989.43" y="1365.7" font-family='"Liberation Serif", serif' font-size="28.5" font-weight="bold" fill="#231815" textLength="44.89" lengthAdjust="spacingAndGlyphs">160</text>
<text x="989.43" y="1415.34" font-family='"Liberation Serif", serif' font-size="28.5" font-weight="bold" fill="#231815" textLength="44.89" lengthAdjust="spacingAndGlyphs">140</text>
<text x="989.43" y="1458.38" font-family='"Liberation Serif", serif' font-size="28.5" font-weight="bold" fill="#231815" textLength="44.89" lengthAdjust="spacingAndGlyphs">120</text>
<text x="989.43" y="1513.12" font-family='"Liberation Serif", serif' font-size="28.5" font-weight="bold" fill="#231815" textLength="44.89" lengthAdjust="spacingAndGlyphs">100</text>
<text x="1004.4" y="1558.36" font-family='"Liberation Serif", serif' font-size="28.5" font-weight="bold" fill="#231815" textLength="29.92" lengthAdjust="spacingAndGlyphs">80</text>
<text x="1004.4" y="1609.5" font-family='"Liberation Serif", serif' font-size="28.5" font-weight="bold" fill="#231815" textLength="29.92" lengthAdjust="spacingAndGlyphs">60</text>
<text x="1004.4" y="1656.94" font-family='"Liberation Serif", serif' font-size="28.5" font-weight="bold" fill="#231815" textLength="29.93" lengthAdjust="spacingAndGlyphs">40</text>
<text x="1004.4" y="1705.88" font-family='"Liberation Serif", serif' font-size="28.5" font-weight="bold" fill="#231815" textLength="29.92" lengthAdjust="spacingAndGlyphs">20</text>
<text x="1019.36" y="1752.42" font-family='"Liberation Serif", serif' font-size="28.5" font-weight="bold" fill="#231815" textLength="14.96" lengthAdjust="spacingAndGlyphs">0</text>
<text transform="translate(973.5 1762) rotate(-90)" x="-0.57" y="0" font-family='"Liberation Serif", serif' font-size="30.5" font-weight="bold" fill="#231815" textLength="414.44" lengthAdjust="spacingAndGlyphs">Positive rate of EBV DNA(%)</text>
<ellipse cx="1566.5" cy="1369" rx="8.7" ry="8.4" fill="#000"/>
<ellipse cx="1566.5" cy="1421.3" rx="8.7" ry="8.4" fill="#f0001a"/>
<text x="1613.79" y="1379.9" font-family='"Liberation Serif", serif' font-size="33" font-weight="normal" fill="#120d0b" textLength="43.25" lengthAdjust="spacingAndGlyphs">CP</text>
<text x="1614.78" y="1431.5" font-family='"Liberation Serif", serif' font-size="33" font-weight="normal" fill="#120d0b" textLength="53.08" lengthAdjust="spacingAndGlyphs">MB</text>
<text><tspan x="1110.01" y="1565.57" font-family='"Liberation Serif", serif' font-size="39.78" font-weight="normal" fill="#231815" textLength="22.44" lengthAdjust="spacingAndGlyphs">&lt;</tspan><tspan x="1134.5" y="1560.6" font-family='"Liberation Serif", serif' font-size="24.5" font-weight="bold" fill="#231815" textLength="60.1" lengthAdjust="spacingAndGlyphs">0.001</tspan></text>
<text><tspan x="1301.01" y="1500.97" font-family='"Liberation Serif", serif' font-size="39.78" font-weight="normal" fill="#231815" textLength="22.44" lengthAdjust="spacingAndGlyphs">&lt;</tspan><tspan x="1325.53" y="1496" font-family='"Liberation Serif", serif' font-size="24.5" font-weight="bold" fill="#231815" textLength="71.44" lengthAdjust="spacingAndGlyphs">0.0001</tspan></text>
<text><tspan x="1500.29" y="1472.51" font-family='"Liberation Serif", serif' font-size="40.22" font-weight="normal" fill="#231815" textLength="22.68" lengthAdjust="spacingAndGlyphs">&lt;</tspan><tspan x="1525.02" y="1467.4" font-family='"Liberation Serif", serif' font-size="24.5" font-weight="bold" fill="#231815" textLength="71.95" lengthAdjust="spacingAndGlyphs">0.0001</tspan></text>
<text x="1137.44" y="1610.54" font-family='"Liberation Serif", serif' font-size="19" font-weight="bold" fill="#000" textLength="26.93" lengthAdjust="spacingAndGlyphs">***</text>
<text x="1332.67" y="1549.74" font-family='"Liberation Serif", serif' font-size="19" font-weight="bold" fill="#000" textLength="34.26" lengthAdjust="spacingAndGlyphs">****</text>
<text x="1523.38" y="1520.04" font-family='"Liberation Serif", serif' font-size="24" font-weight="bold" fill="#5c5c5c" textLength="48.04" lengthAdjust="spacingAndGlyphs">****</text>
<text transform="translate(1183.9 1786.2) scale(1 0.9) rotate(-45)" x="0" y="0" font-family='"Liberation Serif", serif' font-size="29" font-weight="bold" fill="#231815" text-anchor="end">I-II</text>
<text transform="translate(1378 1787.9) scale(1 0.9) rotate(-45)" x="0" y="0" font-family='"Liberation Serif", serif' font-size="29" font-weight="bold" fill="#231815" text-anchor="end">III</text>
<text transform="translate(1570.6 1787.9) scale(1 0.9) rotate(-45)" x="0" y="0" font-family='"Liberation Serif", serif' font-size="29" font-weight="bold" fill="#231815" text-anchor="end">IV</text>
</svg>
</body>
</html>
